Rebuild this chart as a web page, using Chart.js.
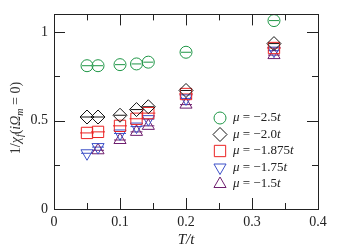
<!DOCTYPE html>
<html>
<head>
<meta charset="utf-8">
<script src="https://cdn.jsdelivr.net/npm/chart.js@4/dist/chart.umd.min.js"></script>
<style>
  html, body { margin: 0; padding: 0; background: #fff; }
  #wrap { width: 338px; height: 250px; }
</style>
</head>
<body>
<div id="wrap"><canvas id="myChart"></canvas></div>
<script>
// temperatures T/t
var tValues = [0.05, 0.0667, 0.1, 0.125, 0.1429, 0.2, 0.3333];
// 1/chi_f values, one list per chemical potential
var mu25 = [0.81, 0.81, 0.816, 0.82, 0.83, 0.886, 1.065];
var mu20 = [0.52, 0.52, 0.53, 0.562, 0.578, 0.67, 0.935];
var mu1875 = [0.43, 0.436, 0.47, 0.51, 0.542, 0.65, 0.91];
var mu175 = [0.315, 0.35, 0.427, 0.466, 0.508, 0.625, 0.895];
var mu15 = [null, 0.332, 0.39, 0.436, 0.47, 0.59, 0.87];

var muLabels = ['\u22122.5', '\u22122.0', '\u22121.875', '\u22121.75', '\u22121.5'];
var xMajor = [0, 0.1, 0.2, 0.3, 0.4];
var xMinor = [0.05, 0.15, 0.25, 0.35];
var yMajor = [0, 0.5, 1];
var yMinor = [0.25, 0.75];

var series = [
    { vals: mu25, color: 'rgb(30,150,70)', style: 'circle', r: 6, rot: 0 },
    { vals: mu20, color: 'rgb(20,20,20)', style: 'rectRot', r: 7, rot: 0 },
    { vals: mu1875, color: 'rgb(235,35,35)', style: 'rect', r: 8, rot: 0 },
    { vals: mu175, color: 'rgb(60,80,200)', style: 'triangle', r: 7, rot: 180 },
    { vals: mu15, color: 'rgb(110,30,110)', style: 'triangle', r: 7, rot: 0 }
];

function pts(vals) {
    var out = [];
    vals.forEach(function (v, i) {
        if (v !== null) out.push({ x: tValues[i], y: v });
    });
    return out;
}

var datasets = [];
series.forEach(function (s) {
    datasets.push({
        data: pts(s.vals),
        pointStyle: s.style,
        pointRadius: s.r,
        pointRotation: s.rot,
        borderColor: s.color,
        backgroundColor: 'rgba(0,0,0,0)',
        borderWidth: 1,
        showLine: false
    });
});
// small error bars drawn as horizontal strokes through the markers
series.forEach(function (s) {
    datasets.push({
        data: pts(s.vals),
        pointStyle: 'line',
        pointRadius: s.r - 1,
        borderColor: s.color,
        borderWidth: 1,
        showLine: false
    });
});

var serif = '"Liberation Serif", "DejaVu Serif", serif';

var framePlugin = {
    id: 'frame',
    afterDraw: function (chart) {
        var ctx = chart.ctx, a = chart.chartArea;
        var x = chart.scales.x, y = chart.scales.y;
        ctx.save();
        ctx.strokeStyle = '#222';
        ctx.lineWidth = 1;
        ctx.strokeRect(Math.round(a.left) + 0.5, Math.round(a.top) + 0.5,
            Math.round(a.right - a.left), Math.round(a.bottom - a.top));
        function xt(v, len) {
            var px = Math.round(x.getPixelForValue(v)) + 0.5;
            ctx.beginPath();
            ctx.moveTo(px, a.bottom); ctx.lineTo(px, a.bottom - len);
            ctx.moveTo(px, a.top); ctx.lineTo(px, a.top + len);
            ctx.stroke();
        }
        function yt(v, len) {
            var py = Math.round(y.getPixelForValue(v)) + 0.5;
            ctx.beginPath();
            ctx.moveTo(a.left, py); ctx.lineTo(a.left + len, py);
            ctx.moveTo(a.right, py); ctx.lineTo(a.right - len, py);
            ctx.stroke();
        }
        xMajor.forEach(function (v) { xt(v, 11); });
        xMinor.forEach(function (v) { xt(v, 6); });
        yMajor.forEach(function (v) { yt(v, 11); });
        yMinor.forEach(function (v) { yt(v, 6); });

        // y axis title with subscripts
        ctx.fillStyle = '#333';
        ctx.textBaseline = 'alphabetic';
        ctx.translate(20, 118);
        ctx.rotate(-Math.PI / 2);
        var parts = [
            ['1/', '14px ' + serif, 0],
            ['\u03c7', 'italic 14px ' + serif, 0],
            ['f', 'italic 10px ' + serif, 3],
            ['(', '14px ' + serif, 0],
            ['i\u03a9', 'italic 14px ' + serif, 0],
            ['m', 'italic 10px ' + serif, 3],
            [' = 0)', '14px ' + serif, 0]
        ];
        var total = 0;
        parts.forEach(function (p) { ctx.font = p[1]; total += ctx.measureText(p[0]).width; });
        var cx = -total / 2;
        parts.forEach(function (p) {
            ctx.font = p[1];
            ctx.fillText(p[0], cx, p[2]);
            cx += ctx.measureText(p[0]).width;
        });
        ctx.restore();

        // legend
        ctx.save();
        ctx.textBaseline = 'middle';
        series.forEach(function (s, i) {
            var ly = 118 + i * 16.5;
            ctx.strokeStyle = s.color;
            ctx.fillStyle = 'rgba(0,0,0,0)';
            ctx.lineWidth = 1;
            Chart.helpers.drawPoint(ctx, {
                pointStyle: s.style, radius: s.r, rotation: s.rot, borderWidth: 1
            }, 220, ly);
            ctx.fillStyle = '#222';
            var tx = 233;
            var seg = [
                ['\u03bc', 'italic 13px ' + serif],
                [' = ' + muLabels[i], '13px ' + serif],
                ['t', 'italic 13px ' + serif]
            ];
            seg.forEach(function (p) {
                ctx.font = p[1];
                ctx.fillText(p[0], tx, ly);
                tx += ctx.measureText(p[0]).width;
            });
        });
        ctx.restore();
    }
};

var ctx = document.getElementById('myChart').getContext('2d');
var myChart = new Chart(ctx, {
    type: 'scatter',
    data: { datasets: datasets },
    options: {
        responsive: true,
        maintainAspectRatio: false,
        animation: false,
        layout: { padding: { top: 5, right: 20, left: 0, bottom: 0 } },
        plugins: {
            legend: { display: false },
            tooltip: { enabled: false }
        },
        scales: {
            x: {
                type: 'linear',
                min: 0,
                max: 0.4,
                afterFit: function (sc) { sc.height = 41; },
                grid: { display: false, drawTicks: false },
                border: { display: false },
                ticks: {
                    stepSize: 0.1,
                    color: '#222',
                    padding: 5,
                    maxRotation: 0,
                    callback: function (v) { return String(+v.toFixed(2)); },
                    font: { family: serif, size: 14 }
                },
                title: {
                    display: true,
                    text: 'T/t',
                    color: '#222',
                    padding: { top: 0, bottom: 1 },
                    font: { family: serif, size: 15, style: 'italic' }
                }
            },
            y: {
                type: 'linear',
                min: 0,
                max: 1.1,
                afterFit: function (sc) { sc.width = 54; },
                grid: { display: false, drawTicks: false },
                border: { display: false },
                ticks: {
                    stepSize: 0.5,
                    includeBounds: false,
                    color: '#222',
                    padding: 6,
                    callback: function (v) { return String(+v.toFixed(2)); },
                    font: { family: serif, size: 14 }
                }
            }
        }
    },
    plugins: [framePlugin]
});
</script>
</body>
</html>
